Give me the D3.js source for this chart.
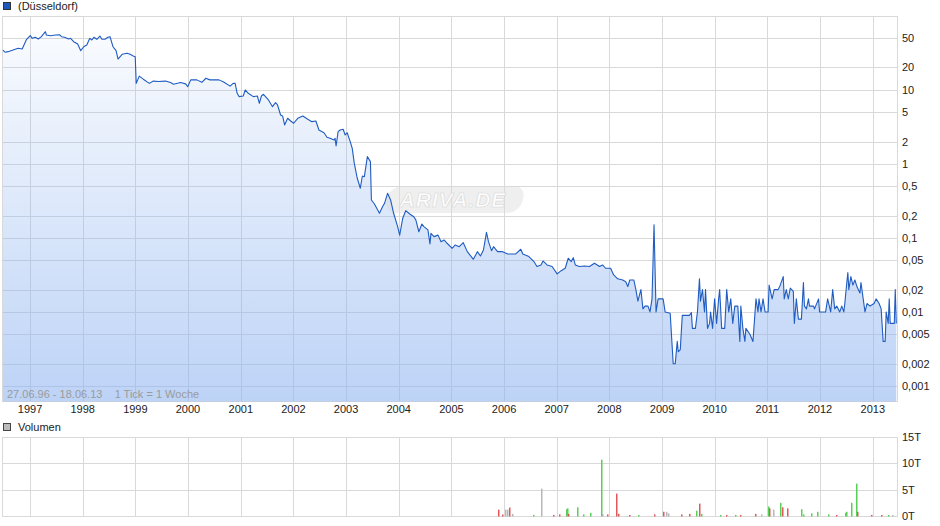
<!DOCTYPE html>
<html>
<head>
<meta charset="utf-8">
<script src="https://cdn.jsdelivr.net/npm/d3@7"></script>
<style>
  body { margin: 0; background: #fff; }
  svg { display: block; font-family: "Liberation Sans", Arial, sans-serif; }
</style>
</head>
<body>
<div id="chart"></div>
<script>
// Weekly close (Düsseldorf): [weeks since 27.06.96, price]
var price = [
  [0, 34.4], [2, 32.1], [5, 32.7], [10, 34.4], [15, 36.3], [19, 35.5], [20, 38.1], [23, 47.0],
  [27, 53.7], [29, 49.5], [32, 51.1], [35, 48.5], [38, 52.1], [42, 60.8], [43, 54.9], [47, 53.7],
  [52, 54.9], [56, 55.4], [58, 52.1], [61, 51.1], [65, 48.5], [67, 49.5], [70, 44.6], [74, 41.5],
  [77, 33.7], [80, 38.1], [83, 40.2], [86, 49.5], [88, 47.0], [90, 51.1], [93, 48.0], [96, 53.2],
  [98, 48.0], [101, 48.0], [104, 51.1], [106, 52.1], [109, 38.1], [112, 33.7], [114, 26.0], [118, 30.1],
  [123, 31.1], [126, 30.1], [129, 28.6], [131, 28.0], [132, 12.2], [135, 15.3], [139, 13.9], [145, 12.2],
  [149, 13.1], [154, 12.9], [161, 13.1], [166, 12.5], [169, 11.9], [176, 12.5], [181, 12.0], [183, 11.0],
  [186, 13.6], [192, 13.6], [197, 12.6], [201, 14.3], [205, 13.6], [214, 13.6], [219, 12.6], [225, 11.2],
  [228, 12.2], [230, 12.2], [232, 8.96], [234, 8.07], [238, 8.24], [240, 9.93], [243, 8.96], [248, 8.07],
  [252, 8.24], [254, 6.57], [256, 8.24], [258, 8.69], [263, 7.28], [267, 5.91], [270, 6.69], [272, 6.23],
  [275, 4.56], [277, 4.43], [279, 3.35], [282, 4.12], [285, 3.79], [288, 3.53], [292, 4.12], [297, 4.43],
  [302, 4.00], [306, 3.71], [310, 3.79], [313, 2.86], [318, 2.63], [321, 2.28], [324, 2.21], [328, 2.10],
  [329, 2.21], [330, 1.74], [332, 2.72], [334, 2.86], [337, 2.93], [339, 2.45], [341, 2.63], [344, 1.99],
  [346, 1.62], [348, 1.02], [351, 0.638], [354, 0.468], [356, 0.685], [358, 0.671], [361, 1.25], [364, 1.07],
  [365, 0.325], [368, 0.287], [373, 0.215], [376, 0.264], [378, 0.293], [381, 0.400], [384, 0.325], [387, 0.215],
  [391, 0.142], [393, 0.109], [396, 0.184], [399, 0.233], [403, 0.210], [407, 0.193], [409, 0.175], [412, 0.121],
  [415, 0.154], [417, 0.142], [421, 0.128], [423, 0.0828], [424, 0.115], [427, 0.104], [431, 0.109], [434, 0.0889],
  [437, 0.0937], [440, 0.0846], [445, 0.0724], [448, 0.0802], [452, 0.0761], [456, 0.0862], [460, 0.0652], [466, 0.0514],
  [470, 0.0652], [473, 0.0570], [476, 0.0687], [479, 0.119], [481, 0.0889], [484, 0.0672], [486, 0.0761], [490, 0.0652],
  [495, 0.0652], [500, 0.0607], [508, 0.0607], [513, 0.0702], [515, 0.0607], [521, 0.0559], [526, 0.0479], [529, 0.0410],
  [533, 0.0431], [535, 0.0488], [539, 0.0431], [544, 0.0410], [549, 0.0326], [553, 0.0361], [557, 0.0389], [560, 0.0531],
  [563, 0.0479], [565, 0.0541], [567, 0.0431], [571, 0.0410], [576, 0.0418], [581, 0.0410], [586, 0.0455], [591, 0.0410],
  [594, 0.0431], [597, 0.0389], [602, 0.0389], [605, 0.0316], [609, 0.028], [614, 0.027], [617, 0.0256], [619, 0.022],
  [621, 0.027], [625, 0.027], [627, 0.02], [629, 0.014], [632, 0.02], [634, 0.011], [636, 0.012], [639, 0.012],
  [641, 0.01], [643, 0.015], [645, 0.15], [647, 0.01], [649, 0.015], [654, 0.015], [656, 0.01], [661, 0.0096],
  [664, 0.002], [666, 0.002], [668, 0.004], [669, 0.0029], [671, 0.0031], [673, 0.009], [680, 0.009], [682, 0.0098],
  [683, 0.006], [686, 0.006], [688, 0.01], [690, 0.028], [691, 0.014], [693, 0.02], [695, 0.01], [696, 0.02],
  [698, 0.006], [700, 0.007], [701, 0.01], [703, 0.006], [705, 0.015], [707, 0.007], [709, 0.015], [710, 0.02],
  [712, 0.006], [715, 0.006], [717, 0.02], [719, 0.01], [721, 0.015], [723, 0.007], [725, 0.012], [728, 0.012],
  [730, 0.004], [731, 0.012], [733, 0.006], [735, 0.004], [736, 0.006], [740, 0.005], [743, 0.004], [746, 0.015],
  [748, 0.01], [749, 0.015], [751, 0.01], [753, 0.015], [755, 0.01], [758, 0.01], [759, 0.023], [762, 0.015],
  [764, 0.02], [768, 0.02], [770, 0.023], [773, 0.03], [774, 0.015], [776, 0.02], [778, 0.015], [780, 0.021],
  [783, 0.019], [784, 0.007], [786, 0.015], [788, 0.008], [791, 0.008], [793, 0.025], [794, 0.012], [796, 0.011],
  [798, 0.015], [799, 0.012], [803, 0.012], [804, 0.011], [808, 0.015], [809, 0.01], [815, 0.01], [817, 0.015],
  [820, 0.01], [822, 0.02], [824, 0.011], [826, 0.012], [829, 0.01], [831, 0.012], [833, 0.01], [834, 0.013],
  [836, 0.025], [837, 0.034], [838, 0.02], [840, 0.03], [842, 0.023], [844, 0.027], [846, 0.022], [849, 0.018],
  [850, 0.025], [854, 0.01], [856, 0.013], [859, 0.012], [863, 0.013], [865, 0.015], [868, 0.013], [870, 0.011],
  [872, 0.004], [874, 0.004], [875, 0.01], [877, 0.007], [878, 0.015], [879, 0.007], [883, 0.007], [884, 0.02],
  [885, 0.007]
];

// Weekly volume in T: [weeks since 27.06.96, volume, direction]
var volume = [
  [490, 1.2, 'down'], [494, 0.3, 'down'], [497, 1.2, 'flat'], [499, 1.2, 'flat'], [501, 1.6, 'down'],
  [504, 0.4, 'flat'], [525, 0.2, 'up'], [533, 5.2, 'flat'], [545, 0.2, 'down'], [551, 0.3, 'down'],
  [558, 1.3, 'up'], [559, 1.45, 'up'], [560, 0.4, 'down'], [569, 1.65, 'up'], [575, 0.3, 'up'],
  [582, 0.6, 'up'], [592, 10.7, 'up'], [593, 0.4, 'flat'], [598, 0.3, 'down'], [607, 4.25, 'down'],
  [609, 0.4, 'down'], [620, 0.2, 'down'], [629, 0.2, 'up'], [645, 0.3, 'down'], [654, 0.8, 'down'],
  [657, 0.8, 'flat'], [659, 0.5, 'flat'], [672, 0.3, 'down'], [680, 0.4, 'down'], [687, 1.0, 'up'],
  [690, 2.35, 'down'], [692, 0.4, 'up'], [710, 0.2, 'up'], [716, 0.2, 'down'], [725, 0.2, 'up'],
  [730, 0.2, 'down'], [745, 0.4, 'down'], [751, 0.3, 'flat'], [758, 1.8, 'up'], [759, 1.45, 'down'],
  [763, 1.2, 'flat'], [770, 2.5, 'up'], [772, 1.65, 'down'], [777, 1.45, 'down'], [791, 1.3, 'up'],
  [793, 0.3, 'up'], [801, 0.5, 'up'], [806, 0.8, 'up'], [817, 0.3, 'up'], [825, 0.2, 'down'],
  [834, 0.6, 'up'], [835, 0.8, 'up'], [840, 2.5, 'up'], [845, 6.15, 'up'], [846, 0.8, 'down'],
  [860, 0.2, 'down'], [870, 0.2, 'down'], [877, 0.2, 'up'], [881, 0.2, 'flat']
];

var years = [1997, 1998, 1999, 2000, 2001, 2002, 2003, 2004, 2005,
             2006, 2007, 2008, 2009, 2010, 2011, 2012, 2013];
var priceTicks = [50, 20, 10, 5, 2, 1, 0.5, 0.2, 0.1, 0.05, 0.02, 0.01, 0.005, 0.002, 0.001];
var volumeTicks = [0, 5, 10, 15];

var width = 940;
var height = 526;
var left = 2.5;
var right = 897.5;
var priceTop = 16.5;
var priceBottom = 401.5;
var volTop = 437;
var volBottom = 516;
var gridColor = '#d9d9d9';
var labelFont = 11;

var start = new Date(1996, 5, 27);
var end = new Date(2013, 5, 18);
var week = function (w) {
  return d3.timeDay.offset(start, w * 7);
};

var de = d3.formatLocale({ decimal: ',', thousands: '.', grouping: [3], currency: ['', '€'] });
var priceFormat = de.format('~g');

// Scales
var x = d3.scaleTime()
          .domain([start, end])
          .range([left + 0.5, right - 0.5]);
var y = d3.scaleLog()
          .domain([0.001, 50])
          .range([386, 38]);
var yVol = d3.scaleLinear()
             .domain([0, 15])
             .range([volBottom, volTop]);

var svg = d3.select('#chart')
            .append('svg')
            .attr('width', width)
            .attr('height', height);

// Fill gradient
var defs = svg.append('defs');
var grad = defs.append('linearGradient')
               .attr('id', 'fill')
               .attr('gradientUnits', 'userSpaceOnUse')
               .attr('x1', 0).attr('y1', priceTop)
               .attr('x2', 0).attr('y2', priceBottom);
grad.append('stop').attr('offset', 0)
    .attr('stop-color', '#8db3f0').attr('stop-opacity', 0.03);
grad.append('stop').attr('offset', 1)
    .attr('stop-color', '#8db3f0').attr('stop-opacity', 0.58);

// Price panel grid
var grid = svg.append('g')
              .attr('stroke', gridColor)
              .attr('stroke-width', 1);
grid.selectAll('.hgrid')
    .data(priceTicks)
    .enter()
    .append('line')
    .attr('class', 'hgrid')
    .attr('x1', left).attr('x2', right)
    .attr('y1', function (d) { return Math.round(y(d)) + 0.5; })
    .attr('y2', function (d) { return Math.round(y(d)) + 0.5; });
grid.selectAll('.vgrid')
    .data(years)
    .enter()
    .append('line')
    .attr('class', 'vgrid')
    .attr('x1', function (d) { return Math.round(x(new Date(d, 0, 1))) + 0.5; })
    .attr('x2', function (d) { return Math.round(x(new Date(d, 0, 1))) + 0.5; })
    .attr('y1', priceTop).attr('y2', priceBottom);
grid.append('rect')
    .attr('x', left).attr('y', priceTop)
    .attr('width', right - left).attr('height', priceBottom - priceTop)
    .attr('fill', 'none');

// Area + line
var area = d3.area()
             .x(function (d) { return x(week(d[0])); })
             .y0(priceBottom)
             .y1(function (d) { return y(d[1]); });
var line = d3.line()
             .x(function (d) { return x(week(d[0])); })
             .y(function (d) { return y(d[1]); });

svg.append('path')
   .datum(price)
   .attr('d', area)
   .attr('fill', 'url(#fill)');

// Watermark
var wm = svg.append('g')
            .attr('transform', 'translate(455,199) skewX(-14)');
wm.append('rect')
  .attr('x', -68).attr('y', -13)
  .attr('width', 136).attr('height', 27)
  .attr('rx', 12)
  .attr('fill', '#dcdcdc')
  .attr('fill-opacity', 0.45);
svg.append('text')
   .attr('x', 453).attr('y', 207)
   .attr('text-anchor', 'middle')
   .attr('font-size', 21)
   .attr('font-weight', 'bold')
   .attr('font-style', 'italic')
   .attr('letter-spacing', 1)
   .attr('fill', '#fff')
   .attr('fill-opacity', 0.9)
   .attr('stroke', '#d6d6d6')
   .attr('stroke-width', 0.6)
   .text('ARIVA.DE');

svg.append('path')
   .datum(price)
   .attr('d', line)
   .attr('fill', 'none')
   .attr('stroke', '#1f5cc2')
   .attr('stroke-width', 1.1)
   .attr('stroke-linejoin', 'round');

// Right axis labels
svg.selectAll('.plabel')
   .data(priceTicks)
   .enter()
   .append('text')
   .attr('class', 'plabel')
   .attr('x', 902)
   .attr('y', function (d) { return y(d) + 4; })
   .attr('font-size', labelFont)
   .attr('fill', '#222')
   .text(priceFormat);

// Year labels
svg.selectAll('.ylabel')
   .data(years)
   .enter()
   .append('text')
   .attr('class', 'ylabel')
   .attr('x', function (d) { return x(new Date(d, 0, 1)); })
   .attr('y', 413)
   .attr('text-anchor', 'middle')
   .attr('font-size', labelFont)
   .attr('fill', '#222')
   .text(function (d) { return d; });

// Period note
svg.append('text')
   .attr('x', 7)
   .attr('y', 398)
   .attr('font-size', labelFont)
   .attr('fill', '#9a9a9a')
   .style('white-space', 'pre')
   .text('27.06.96 - 18.06.13    1 Tick = 1 Woche');

// Legends
svg.append('rect')
   .attr('x', 3.5).attr('y', 2.5)
   .attr('width', 7).attr('height', 7)
   .attr('fill', '#1c58c0')
   .attr('stroke', '#333');
svg.append('text')
   .attr('x', 18).attr('y', 10)
   .attr('font-size', labelFont)
   .attr('fill', '#222')
   .text('(Düsseldorf)');

svg.append('rect')
   .attr('x', 3.5).attr('y', 423.5)
   .attr('width', 7).attr('height', 7)
   .attr('fill', '#bbb')
   .attr('stroke', '#444');
svg.append('text')
   .attr('x', 18).attr('y', 431)
   .attr('font-size', labelFont)
   .attr('fill', '#222')
   .text('Volumen');

// Volume panel grid
var vgrid = svg.append('g')
               .attr('stroke', gridColor)
               .attr('stroke-width', 1);
vgrid.selectAll('.hgrid')
     .data(volumeTicks)
     .enter()
     .append('line')
     .attr('x1', left).attr('x2', right)
     .attr('y1', function (d) { return Math.round(yVol(d)) + 0.5; })
     .attr('y2', function (d) { return Math.round(yVol(d)) + 0.5; });
vgrid.selectAll('.vgrid')
     .data(years)
     .enter()
     .append('line')
     .attr('x1', function (d) { return Math.round(x(new Date(d, 0, 1))) + 0.5; })
     .attr('x2', function (d) { return Math.round(x(new Date(d, 0, 1))) + 0.5; })
     .attr('y1', volTop).attr('y2', volBottom);
vgrid.append('rect')
     .attr('x', left).attr('y', volTop + 0.5)
     .attr('width', right - left).attr('height', volBottom - volTop)
     .attr('fill', 'none');

// Volume bars
var volColor = { up: '#58d058', down: '#e05858', flat: '#b8b8b8' };
svg.selectAll('.bar')
   .data(volume)
   .enter()
   .append('rect')
   .attr('class', 'bar')
   .attr('x', function (d) { return Math.round(x(week(d[0]))); })
   .attr('width', 1.5)
   .attr('y', function (d) { return yVol(d[1]); })
   .attr('height', function (d) { return volBottom + 0.5 - yVol(d[1]); })
   .attr('fill', function (d) { return volColor[d[2]]; });

svg.selectAll('.vlabel')
   .data(volumeTicks)
   .enter()
   .append('text')
   .attr('class', 'vlabel')
   .attr('x', 902)
   .attr('y', function (d) { return yVol(d) + 4; })
   .attr('font-size', labelFont)
   .attr('fill', '#222')
   .text(function (d) { return d + 'T'; });
</script>
</body>
</html>
